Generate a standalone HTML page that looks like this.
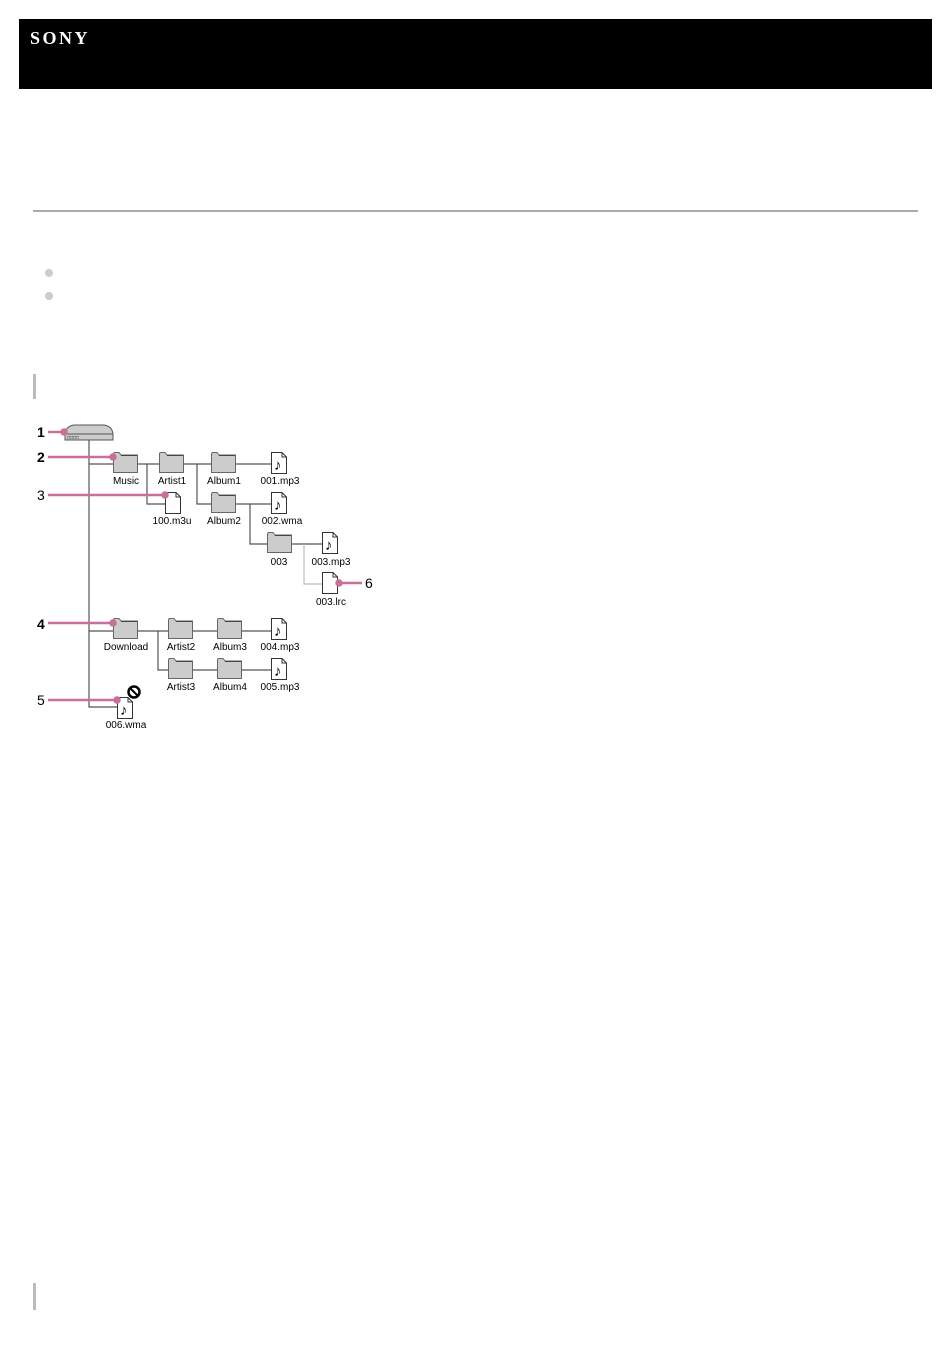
<!DOCTYPE html>
<html><head><meta charset="utf-8"><style>
body{margin:0;background:#fff;width:950px;height:1370px;position:relative;font-family:"Liberation Sans",sans-serif}
.hdr{position:absolute;left:19px;top:19px;width:913px;height:70px;background:#000}
.hdr span{position:absolute;left:11px;top:9px;color:#fff;font-family:"Liberation Serif",serif;font-weight:bold;font-size:18px;letter-spacing:2.5px}
</style></head><body>
<div class="hdr"><span>SONY</span></div>
<div style="position:absolute;left:33px;top:210px;width:885px;height:2px;background:#aaa"></div>
<div style="position:absolute;left:45px;top:269px;width:8px;height:8px;border-radius:50%;background:#ccc"></div>
<div style="position:absolute;left:45px;top:292px;width:8px;height:8px;border-radius:50%;background:#ccc"></div>
<div style="position:absolute;left:33px;top:374px;width:3px;height:25px;background:#bbb"></div>
<div style="position:absolute;left:33px;top:1283px;width:3px;height:27px;background:#bbb"></div>
<svg width="950" height="1370" style="position:absolute;left:0;top:0" font-family="Liberation Sans, sans-serif">
<defs>
<g id="f"><path d="M0.5,4 L0.5,2 Q0.5,0.5 2,0.5 L6,0.5 L8,3 L24.5,3 L24.5,20.5 L0.5,20.5 Z" fill="#ccc" stroke="#666"/><line x1="8" y1="3.5" x2="24" y2="3.5" stroke="#444"/></g>
<g id="d"><path d="M0.5,0.5 L11,0.5 L15.5,5 L15.5,21.5 L0.5,21.5 Z" fill="#fff" stroke="#333"/><path d="M11,0.5 L11,5 L15.5,5" fill="none" stroke="#333"/></g>
<g id="m"><use href="#d"/><text x="3" y="18" font-size="15" font-weight="bold">♪</text></g>
</defs>
<g stroke="#555" stroke-width="1.2" fill="none">
<path d="M89,440 V707 H117"/>
<path d="M89,464 H113 M138,464 H159 M147,464 V504 H165 M184,464 H211 M197,464 V504 H211 M236,464 H271 M236,504 H271 M250,504 V544 H267 M292,544 H322"/>
<path d="M304,544 V584 H322" stroke="#bbb"/>
<path d="M89,631 H113 M138,631 H271 M158,631 V670 H271"/>
</g>
<path d="M65,434 Q66,426 74,425 H104 Q112,426 113,434 V440 H65 Z" fill="#ccc" stroke="#555"/>
<line x1="65" y1="434" x2="113" y2="434" stroke="#555"/>
<text x="67" y="439" font-size="5">□□□□</text>
<use href="#f" x="113" y="452"/><use href="#f" x="159" y="452"/><use href="#f" x="211" y="452"/><use href="#m" x="271" y="452"/>
<use href="#d" x="165" y="492"/><use href="#f" x="211" y="492"/><use href="#m" x="271" y="492"/>
<use href="#f" x="267" y="532"/><use href="#m" x="322" y="532"/>
<use href="#d" x="322" y="572"/>
<use href="#f" x="113" y="618"/><use href="#f" x="168" y="618"/><use href="#f" x="217" y="618"/><use href="#m" x="271" y="618"/>
<use href="#f" x="168" y="658"/><use href="#f" x="217" y="658"/><use href="#m" x="271" y="658"/>
<use href="#m" x="117" y="697"/>
<circle cx="134" cy="692" r="5.5" fill="#fff" stroke="#000" stroke-width="2.5"/><line x1="130" y1="688" x2="138" y2="696" stroke="#000" stroke-width="2"/>
<g font-size="10" text-anchor="middle" fill="#000">
<text x="126" y="484">Music</text><text x="172" y="484">Artist1</text><text x="224" y="484">Album1</text><text x="280" y="484">001.mp3</text>
<text x="172" y="524">100.m3u</text><text x="224" y="524">Album2</text><text x="282" y="524">002.wma</text>
<text x="279" y="565">003</text><text x="331" y="565">003.mp3</text><text x="331" y="605">003.lrc</text>
<text x="126" y="650">Download</text><text x="181" y="650">Artist2</text><text x="230" y="650">Album3</text><text x="280" y="650">004.mp3</text>
<text x="181" y="690">Artist3</text><text x="230" y="690">Album4</text><text x="280" y="690">005.mp3</text>
<text x="126" y="728">006.wma</text>
</g>
<g stroke="#c8709a" stroke-width="2.5" fill="#c8709a">
<line x1="48" y1="432" x2="64" y2="432"/><circle cx="64" cy="432" r="2.5"/>
<line x1="48" y1="457" x2="113" y2="457"/><circle cx="113" cy="457" r="2.5"/>
<line x1="48" y1="495" x2="165" y2="495"/><circle cx="165" cy="495" r="2.5"/>
<line x1="48" y1="623" x2="113" y2="623"/><circle cx="113" cy="623" r="2.5"/>
<line x1="48" y1="700" x2="117" y2="700"/><circle cx="117" cy="700" r="2.5"/>
<line x1="339" y1="583" x2="362" y2="583"/><circle cx="339" cy="583" r="2.5"/>
</g>
<g font-size="14" fill="#000">
<text x="37" y="437" font-weight="bold">1</text><text x="37" y="462" font-weight="bold">2</text><text x="37" y="500">3</text>
<text x="37" y="629" font-weight="bold">4</text><text x="37" y="705">5</text><text x="365" y="588">6</text>
</g>
</svg>
</body></html>
